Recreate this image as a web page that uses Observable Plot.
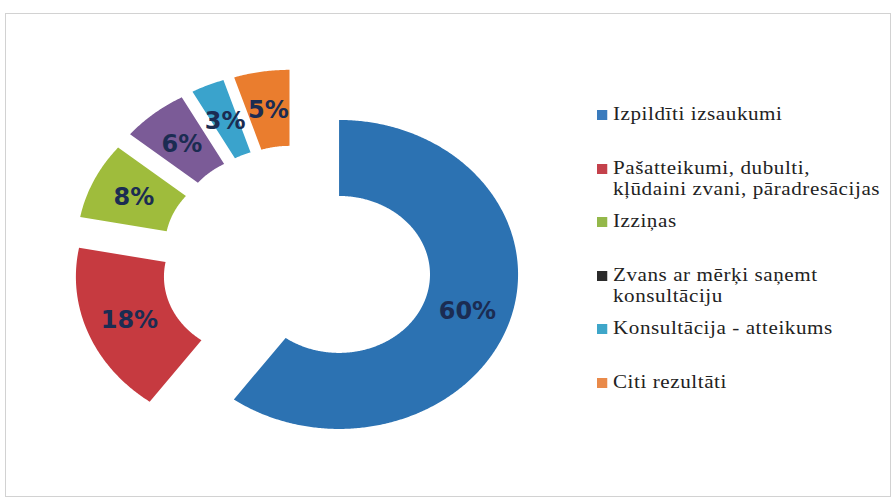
<!DOCTYPE html>
<html>
<head>
<meta charset="utf-8">
<script src="https://cdn.jsdelivr.net/npm/d3@7"></script>
<script src="https://cdn.jsdelivr.net/npm/@observablehq/plot@0.6"></script>
<style>
  html, body { margin: 0; padding: 0; background: #fff; }
  #wrap { position: relative; width: 893px; height: 499px; overflow: hidden; }
  #frame { position: absolute; left: 5px; top: 13px; width: 886px; height: 484px; border: 1px solid #d2d2d2; box-sizing: border-box; }
  #chart { position: absolute; left: 0; top: 0; }
  #legend { position: absolute; left: 597px; top: 104px; font-family: "Liberation Serif", serif; font-size: 18.5px; color: #222; transform: scaleX(1.14); transform-origin: 0 0; }
  .item { position: relative; height: 53.6px; padding-left: 14px; line-height: 21px; letter-spacing: 0.5px; white-space: nowrap; }
  .sw { position: absolute; left: 0; top: 6px; width: 9px; height: 10px; }
</style>
</head>
<body>
<div id="wrap">
  <div id="frame"></div>
  <div id="chart"></div>
  <div id="legend"></div>
</div>
<script>
// ---- data ----
const categories = [
  "Izpildīti izsaukumi",
  "Pašatteikumi, dubulti, kļūdaini zvani, pāradresācijas",
  "Izziņas",
  "Zvans ar mērķi saņemt konsultāciju",
  "Konsultācija - atteikums",
  "Citi rezultāti"
];
const values = [60, 18, 8, 6, 3, 5];
const valueLabels = ["60%", "18%", "8%", "6%", "3%", "5%"];
const legendLines = [
  ["Izpildīti izsaukumi"],
  ["Pašatteikumi, dubulti,", "kļūdaini zvani, pāradresācijas"],
  ["Izziņas"],
  ["Zvans ar mērķi saņemt", "konsultāciju"],
  ["Konsultācija - atteikums"],
  ["Citi rezultāti"]
];
const sliceColors = ["#2c72b2", "#c63a40", "#9fbc3c", "#7b5b97", "#3aa3cc", "#ea7d2e"];
const swatchColors = ["#3a7bbd", "#c4414b", "#94b84a", "#2b2b2b", "#3ea6c9", "#e98a4a"];

// ---- geometry (donut layout) ----
const outerR = 1, innerR = 0.508, explode = 0.25;
const total = d3.sum(values);
const wedges = [];
const labelPts = [];
let acc = 0;
values.forEach((v, i) => {
  const a0 = acc / total * 2 * Math.PI;
  acc += v;
  const a1 = acc / total * 2 * Math.PI;
  const mid = (a0 + a1) / 2;
  const ox = explode * Math.sin(mid), oy = explode * Math.cos(mid);
  const n = Math.max(4, Math.ceil((a1 - a0) / (Math.PI / 360)));
  const pts = [];
  for (let k = 0; k <= n; k++) {
    const a = a0 + (a1 - a0) * k / n;
    pts.push({key: categories[i], x: ox + outerR * Math.sin(a), y: oy + outerR * Math.cos(a)});
  }
  for (let k = n; k >= 0; k--) {
    const a = a0 + (a1 - a0) * k / n;
    pts.push({key: categories[i], x: ox + innerR * Math.sin(a), y: oy + innerR * Math.cos(a)});
  }
  wedges.push({pts, color: sliceColors[i]});
  const rm = (outerR + innerR) / 2;
  labelPts.push({x: ox + rm * Math.sin(mid), y: oy + rm * Math.cos(mid), label: valueLabels[i]});
});

const W = 580, H = 499;
const cxPx = 296, cyPx = 262, sx = 179, sy = 154.5;

const plot = Plot.plot({
  width: W,
  height: H,
  margin: 0,
  x: {domain: [-cxPx / sx, (W - cxPx) / sx], axis: null},
  y: {domain: [-(H - cyPx) / sy, cyPx / sy], axis: null},
  style: {background: "transparent"},
  marks: [
    ...wedges.map(w => Plot.line(w.pts, {x: "x", y: "y", fill: w.color, stroke: "none", curve: "linear"})),
    Plot.text(labelPts, {
      x: "x", y: "y", text: "label",
      dy: 1,
      fontFamily: "DejaVu Sans",
      fontWeight: "bold",
      fontSize: 24,
      fill: "#1b2c52"
    })
  ]
});
document.getElementById("chart").appendChild(plot);

// ---- legend ----
const legend = document.getElementById("legend");
legendLines.forEach((lines, i) => {
  const it = document.createElement("div");
  it.className = "item";
  const sw = document.createElement("span");
  sw.className = "sw";
  sw.style.background = swatchColors[i];
  it.appendChild(sw);
  lines.forEach((t, j) => {
    if (j) it.appendChild(document.createElement("br"));
    it.appendChild(document.createTextNode(t));
  });
  legend.appendChild(it);
});
</script>
</body>
</html>
